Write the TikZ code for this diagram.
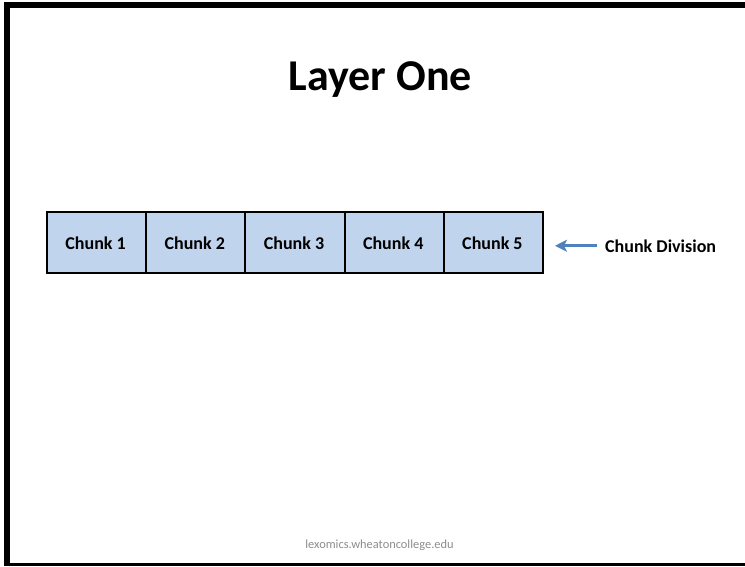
\documentclass[tikz,border=0pt]{standalone}
\usepackage{fontspec}
\setmainfont{Carlito}
\usetikzlibrary{arrows.meta}
\definecolor{cellblue}{RGB}{192,212,238}
\definecolor{arrowblue}{RGB}{79,129,189}
\definecolor{footgray}{RGB}{140,140,140}
\tikzset{
  cell/.style={draw=black, line width=2pt, fill=cellblue, minimum width=99.2pt,
               minimum height=61pt, inner sep=0pt},
  celltext/.style={inner sep=0pt, anchor=base, font=\bfseries\fontsize{18}{20}\selectfont},
  pointer/.style={draw=arrowblue, line width=3pt, -{Stealth[length=12pt,width=12pt,inset=3pt]}},
  frame/.style={fill=black, draw=none}
}
\begin{document}
\begin{tikzpicture}[x=1pt, y=-1pt]
  \useasboundingbox (0,0) rectangle (745,566);
  % slide frame
  \fill[frame] (4,2) rectangle (745,8);
  \fill[frame] (4,2) rectangle (10,566);
  \fill[frame] (4,563) rectangle (745,566);

  % title
  \node[inner sep=0pt, anchor=base, font=\bfseries\fontsize{44}{48}\selectfont] (title) at (380.5,90) {Layer One};

  % row of chunks
  \foreach \i in {1,...,5} {
    \node[cell, anchor=west] (c\i) at ({46+(\i-1)*99.2},242.5) {};
    \node[celltext] (t\i) at ({95.6+(\i-1)*99.2},249) {Chunk \i};
  }

  % label with pointer
  \node[inner sep=0pt, anchor=base west, font=\bfseries\fontsize{18}{20}\selectfont] (lbl) at (605,252) {Chunk Division};
  \draw[pointer, shorten <=8pt, shorten >=11pt] (lbl.west) -- (c5.east |- lbl.west);

  % footer
  \node[inner sep=0pt, anchor=base, text=footgray, font=\fontsize{12.4}{14}\selectfont] (foot) at (379.5,548) {lexomics.wheatoncollege.edu};
\end{tikzpicture}
\end{document}
